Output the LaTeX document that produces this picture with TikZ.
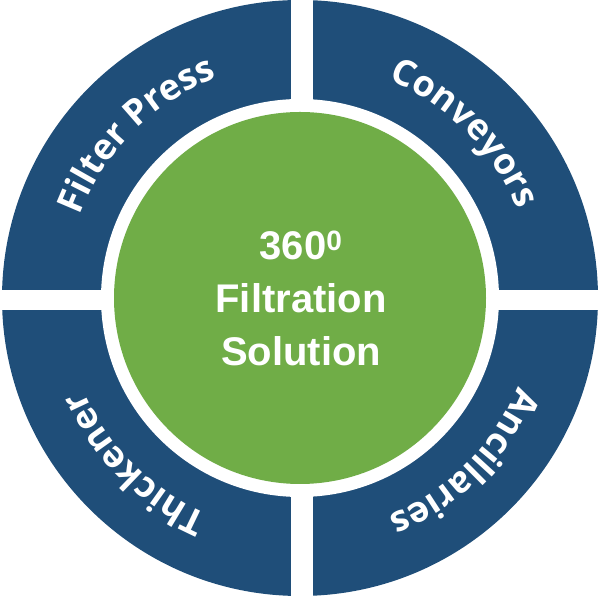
\documentclass[tikz,border=0pt]{standalone}
\usepackage{fontspec}
\setmainfont{Liberation Sans}
\newfontfamily\ringfont{Open Sans}
\usetikzlibrary{decorations.text}
\definecolor{ringblue}{HTML}{1F4E79}
\definecolor{hubgreen}{HTML}{70AD47}
\tikzset{
  ringlabel/.style={decorate, decoration={text along path, text align=center, text color=white,
    text={|\ringfont\bfseries\fontsize{36}{36}\selectfont|#1}}},
}
\begin{document}
\begin{tikzpicture}[x=1pt,y=1pt]
\useasboundingbox (0,0) rectangle (600,596);
\coordinate (c) at (300,298);
% ring
\fill[ringblue] (c) circle[radius=298];
\fill[white] (c) circle[radius=199];
% gaps
\fill[white] (291,0) rectangle (313,596);
\fill[white] (0,286) rectangle (600,306);
% hub
\node[circle, fill=hubgreen, minimum size=372pt, inner sep=0pt] (hub) at (c) {};
\node[text=white, font=\bfseries\fontsize{40}{53}\selectfont, align=center] (hubtext) at (301,298)
  {360\textsuperscript{0}\\Filtration\\Solution};
% ring labels
\path[ringlabel={Filter Press}] (c) ++(178:235) arc[start angle=178, end angle=92, radius=235];
\path[ringlabel={Conveyors}] (c) ++(88:235) arc[start angle=88, end angle=2, radius=235];
\path[ringlabel={Ancillaries}] (c) ++(-2:235) arc[start angle=-2, end angle=-88, radius=235];
\path[ringlabel={Thickener}] (c) ++(-92:235) arc[start angle=-92, end angle=-178, radius=235];
\end{tikzpicture}
\end{document}
